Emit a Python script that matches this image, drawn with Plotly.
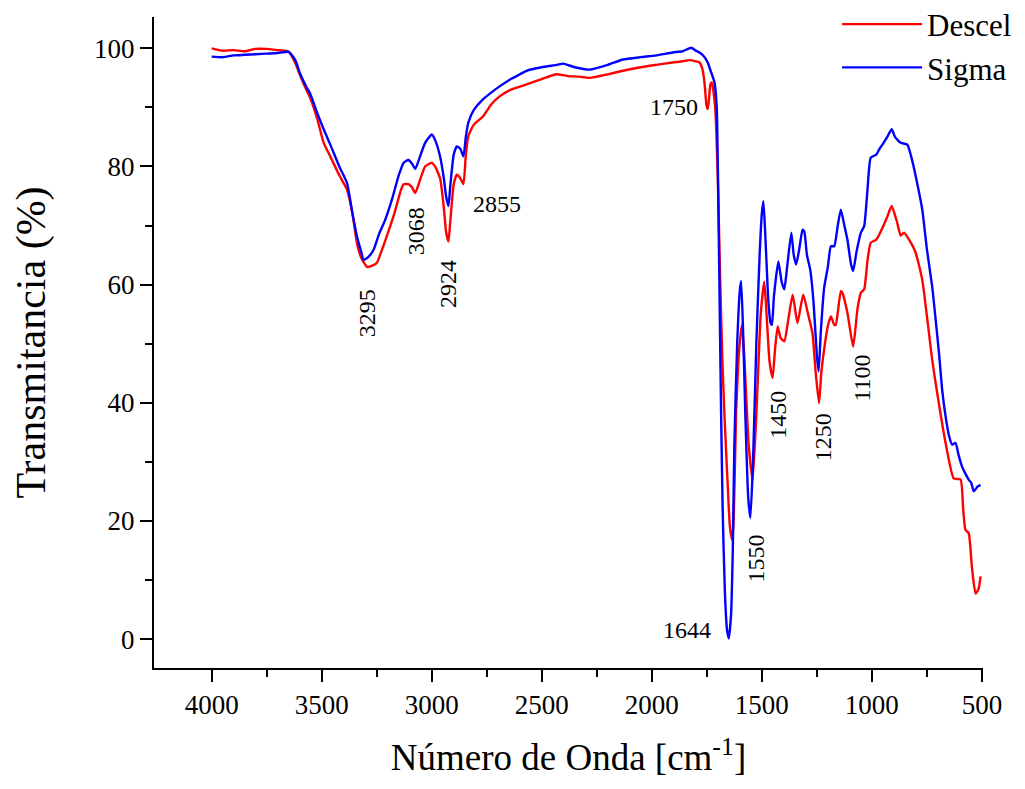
import plotly.graph_objects as go

# Wavenumbers (cm-1) and transmittance (%)
descel_wn = [4000, 3950, 3900, 3850, 3800, 3750, 3700, 3650, 3620, 3597, 3570, 3551, 3520, 3491, 3461,
             3420, 3385, 3360, 3340, 3320, 3294, 3270, 3249, 3230, 3204, 3170, 3140, 3128, 3106, 3090,
             3075, 3055, 3030, 3000, 2985, 2962, 2945, 2935, 2924, 2915, 2900, 2886, 2870, 2856, 2845,
             2834, 2810, 2766, 2730, 2690, 2640, 2600, 2569, 2500, 2433, 2380, 2330, 2282, 2200, 2131,
             2050, 1980, 1905, 1860, 1829, 1800, 1783, 1770, 1760, 1752, 1746, 1740, 1733, 1727,
             1712, 1700, 1690, 1680, 1670, 1655, 1645, 1635, 1628, 1617, 1605, 1595, 1590, 1580, 1560,
             1542, 1525, 1505, 1489, 1480, 1465, 1451, 1440, 1428, 1415, 1398, 1380, 1360, 1338, 1312,
             1290, 1270, 1255, 1240, 1230, 1217, 1200, 1186, 1171, 1164, 1141, 1134, 1111, 1085, 1065,
             1050, 1035, 1020, 1005, 980, 952, 930, 910, 885, 869, 854, 831, 801, 771, 726, 703, 665,
             628, 597, 585, 575, 560, 545, 529, 515, 506]
descel_t = [100.0, 99.6, 99.7, 99.5, 99.9, 99.9, 99.7, 99.4, 97.5, 95.3, 93.0, 91.5, 88.0, 84.0, 81.7,
            78.5, 76.1, 72.0, 67.1, 64.5, 63.0, 63.2, 63.7, 65.5, 68.2, 72.0, 76.0, 77.0, 77.0, 76.5,
            75.5, 77.5, 80.0, 80.6, 80.0, 78.0, 73.0, 69.0, 67.3, 71.0, 77.0, 78.6, 78.0, 77.0, 82.0,
            85.1, 87.0, 88.5, 90.5, 91.9, 93.0, 93.5, 93.9, 94.8, 95.6, 95.3, 95.2, 95.0, 95.6, 96.2,
            96.8, 97.2, 97.6, 97.8, 98.0, 97.8, 97.6, 96.5, 94.0, 90.5, 89.7, 91.5, 94.0, 94.2,
            90.0, 78.0, 62.0, 48.0, 38.0, 26.0, 19.0, 16.8, 20.0, 38.3, 48.0, 52.0, 53.2, 48.0, 33.0,
            26.9, 38.0, 55.0, 60.5, 56.0, 47.0, 44.2, 49.0, 52.9, 51.0, 50.4, 54.0, 58.3, 53.5, 58.3,
            55.0, 51.8, 45.0, 39.9, 45.0, 49.0, 53.0, 54.6, 53.2, 53.2, 58.9, 58.6, 55.2, 49.5, 56.0,
            58.6, 59.2, 64.0, 67.1, 67.6, 69.6, 71.5, 73.3, 70.5, 68.3, 68.8, 67.6, 65.4, 60.8, 47.3, 41.6, 33.2,
            27.2, 27.0, 22.0, 18.5, 17.9, 12.0, 7.7, 8.5, 10.6]

sigma_wn = [4000, 3950, 3900, 3850, 3800, 3750, 3700, 3650, 3620, 3597, 3570, 3551, 3520, 3491, 3461,
            3420, 3385, 3360, 3340, 3320, 3310, 3290, 3264, 3240, 3211, 3180, 3150, 3128, 3106, 3090,
            3075, 3055, 3030, 3000, 2985, 2962, 2945, 2935, 2924, 2915, 2900, 2886, 2870, 2856, 2845,
            2834, 2810, 2766, 2730, 2690, 2640, 2600, 2569, 2500, 2430, 2403, 2350, 2282, 2200, 2131,
            2050, 1980, 1905, 1860, 1821, 1800, 1783, 1760, 1745, 1730, 1715,
            1705, 1698, 1690, 1685, 1678, 1668, 1658, 1650, 1640, 1632, 1625, 1612, 1600, 1594, 1585,
            1575, 1562, 1552, 1540, 1525, 1510, 1500, 1493, 1485, 1470, 1460, 1454, 1445, 1425, 1410,
            1398, 1385, 1366, 1355, 1344, 1330, 1315, 1307, 1295, 1280, 1265, 1250, 1242, 1232, 1217,
            1200, 1186, 1171, 1155, 1141, 1125, 1111, 1095, 1085, 1070, 1050, 1035, 1020, 1005, 980,
            965, 952, 930, 910, 895, 869, 839, 820, 801, 771, 750, 726, 710, 695, 680, 665, 650, 635,
            620, 605, 590, 575, 560, 548, 537, 520, 506]
sigma_t = [98.6, 98.5, 98.8, 98.9, 99.0, 99.1, 99.2, 99.4, 98.0, 95.6, 93.5, 92.2, 89.0, 86.3, 83.7,
           80.0, 77.2, 72.0, 68.2, 65.5, 64.2, 64.6, 65.9, 68.5, 71.0, 74.5, 78.5, 80.6, 81.1, 80.5,
           79.6, 81.5, 84.0, 85.4, 84.5, 81.7, 78.0, 75.0, 73.3, 77.0, 82.0, 83.4, 83.0, 81.7, 85.0,
           87.4, 89.5, 91.4, 92.5, 93.6, 94.8, 95.6, 96.2, 96.8, 97.2, 97.4, 96.8, 96.4, 97.2, 98.1,
           98.5, 98.8, 99.3, 99.5, 100.1, 99.6, 99.3, 98.5, 97.5, 95.9, 94.2,
           90.0, 75.0, 52.0, 38.0, 22.0, 8.0, 1.5, 0.1, 4.0, 15.0, 32.6, 50.0, 59.0, 60.6, 52.0,
           38.0, 24.0, 20.5, 30.0, 50.0, 65.0, 72.0, 74.1, 69.0, 57.0, 53.5, 53.2, 58.0, 63.9, 60.5,
           59.2, 63.0, 68.8, 65.0, 63.4, 66.0, 69.3, 69.0, 65.0, 62.5, 57.0, 48.0, 45.3, 52.0, 59.4,
           63.0, 66.5, 66.5, 70.0, 72.7, 70.0, 67.6, 63.5, 62.3, 65.5, 68.8, 69.9, 76.0, 81.5, 82.0,
           83.0, 83.7, 85.0, 86.3, 85.0, 84.0, 83.7, 81.5, 78.4, 72.7, 66.0, 59.7, 54.0, 48.4, 42.0, 37.7, 34.5, 32.9,
           33.2, 31.0, 29.2, 28.0, 27.0, 26.4, 25.0, 25.8, 26.1]

# Peak labels: text, x (cm-1), y (%), rotation
peak_text = ["3295", "3068", "2924", "2855", "1750", "1644", "1550", "1450", "1250", "1100"]
peak_x = [3295, 3068, 2924, 2704, 1897, 1838, 1525, 1430, 1221, 1049]
peak_y = [55.1, 69.0, 60.2, 73.7, 90.0, 1.5, 13.7, 38.0, 34.2, 44.1]
peak_rot = [-90, -90, -90, 0, 0, 0, -90, -90, -90, -90]

SERIF = "Times New Roman"

fig = go.Figure()
fig.add_trace(go.Scatter(x=descel_wn, y=descel_t, mode="lines", name="Descel",
                         line=dict(color="rgb(255,0,0)", width=2.4, shape="spline", smoothing=0.5)))
fig.add_trace(go.Scatter(x=sigma_wn, y=sigma_t, mode="lines", name="Sigma",
                         line=dict(color="rgb(0,0,255)", width=2.4, shape="spline", smoothing=0.5)))

for t, x, y, r in zip(peak_text, peak_x, peak_y, peak_rot):
    fig.add_annotation(x=x, y=y, xref="x", yref="y", text=t, showarrow=False,
                       textangle=r, font=dict(family=SERIF, size=24, color="black"))

fig.update_layout(
    width=1025, height=789,
    margin=dict(l=146, r=50, t=9, b=129, autoexpand=False),
    paper_bgcolor="white", plot_bgcolor="white",
    font=dict(family=SERIF, color="black"),
    showlegend=True,
    legend=dict(x=0.824, y=1.03, xanchor="left", yanchor="top", itemwidth=80,
                bgcolor="rgba(0,0,0,0)", font=dict(family=SERIF, size=31, color="black"),
                tracegroupgap=0),
)
fig.update_xaxes(
    range=[4262, 495], showgrid=False, zeroline=False, automargin=False,
    showline=True, linecolor="black", linewidth=2,
    ticks="outside", ticklen=12, tickwidth=2, tickcolor="black",
    tickmode="array", tickvals=[4000, 3500, 3000, 2500, 2000, 1500, 1000, 500],
    minor=dict(ticks="outside", ticklen=7, tickwidth=2, tickcolor="black",
               tickvals=[3750, 3250, 2750, 2250, 1750, 1250, 750]),
    tickfont=dict(family=SERIF, size=27, color="black"),
    title=dict(text="Número de Onda [cm<sup>-1</sup>]", font=dict(family=SERIF, size=37, color="black"),
               standoff=25),
)
fig.update_yaxes(
    range=[-4.9, 105.3], showgrid=False, zeroline=False, automargin=False,
    showline=True, linecolor="black", linewidth=2,
    ticks="outside", ticklen=12, tickwidth=2, tickcolor="black",
    tickmode="array", tickvals=[0, 20, 40, 60, 80, 100],
    minor=dict(ticks="outside", ticklen=7, tickwidth=2, tickcolor="black",
               tickvals=[10, 30, 50, 70, 90]),
    tickfont=dict(family=SERIF, size=27, color="black"),
    title=dict(text="Transmitancia (%)", font=dict(family=SERIF, size=42, color="black"),
               standoff=36),
)

fig.write_html("out.html")
